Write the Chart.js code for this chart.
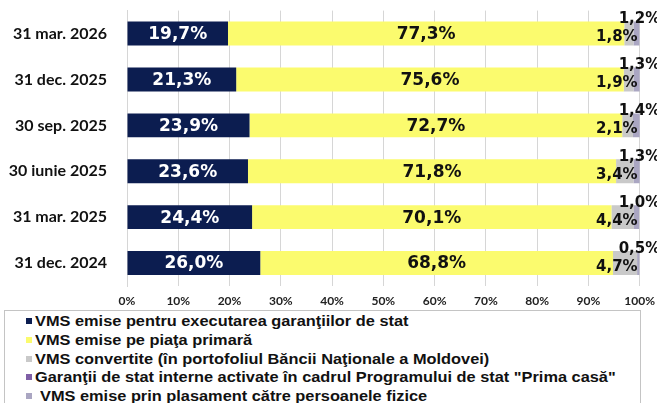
<!DOCTYPE html>
<html>
<head>
<meta charset="utf-8">
<script src="https://cdn.jsdelivr.net/npm/chart.js@4.4.1/dist/chart.umd.min.js"></script>
<style>
  html, body { margin: 0; padding: 0; background: #fff; }
  body { width: 657px; height: 403px; overflow: hidden; position: relative; }
  #wrap { position: absolute; left: 0; top: -11px; width: 663px; height: 321px; }
  #legend { position: absolute; left: 4px; top: 310px; width: 637px; height: 110px; border: 1px solid #c4c4c4; box-sizing: border-box;
    font-family: "Liberation Sans", Arial, sans-serif; font-weight: bold; font-size: 15px; color: #111; }
  .li { position: absolute; left: 0; height: 18px; line-height: 18px; white-space: nowrap; }
  .mk { position: absolute; top: 6px; width: 6px; height: 6px; }
  .tx { position: absolute; top: 0; transform: scaleX(1.09); transform-origin: 0 50%; }
</style>
</head>
<body>
<div id="wrap"><canvas id="c"></canvas></div>
<div id="legend"></div>
<script>
const categories = ["31 mar. 2026", "31 dec. 2025", "30 sep. 2025", "30 iunie 2025", "31 mar. 2025", "31 dec. 2024"];
const seriesNames = [
  "VMS emise pentru executarea garanţiilor de stat",
  "VMS emise pe piaţa primară",
  "VMS convertite (în portofoliul Băncii Naţionale a Moldovei)",
  "Garanţii de stat interne activate în cadrul Programului de stat \"Prima casă\"",
  "VMS emise prin plasament către persoanele fizice"
];
const garantii = [19.7, 21.3, 23.9, 23.6, 24.4, 26.0];
const piataPrimara = [77.3, 75.6, 72.7, 71.8, 70.1, 68.8];
const convertite = [1.8, 1.9, 2.1, 3.4, 4.4, 4.7];
const primaCasa = [0, 0, 0, 0, 0, 0];
const persoaneFizice = [1.2, 1.3, 1.4, 1.3, 1.0, 0.5];
const xTicks = [0, 10, 20, 30, 40, 50, 60, 70, 80, 90, 100];

const colors = ["#0c1d50", "#fbfb6e", "#c9c9c9", "#7f5fa6", "#aaa6c2"];
const series = [garantii, piataPrimara, convertite, primaCasa, persoaneFizice];

const fmt = v => v.toFixed(1).replace('.', ',') + '%';

const labelPlugin = {
  id: 'labels',
  afterDatasetsDraw(chart) {
    const ctx = chart.ctx;
    ctx.save();
    ctx.textBaseline = 'middle';
    const xs = chart.scales.x;
    chart.data.datasets.forEach((ds, di) => {
      const meta = chart.getDatasetMeta(di);
      meta.data.forEach((bar, i) => {
        const v = ds.data[i];
        if (!v) return;
        const y = bar.y;
        if (di === 0) {
          ctx.font = 'bold 17px "DejaVu Sans"';
          ctx.fillStyle = '#ffffff';
          ctx.textAlign = 'center';
          ctx.fillText(fmt(v), (bar.x + bar.base) / 2, y + 1);
        } else if (di === 1) {
          ctx.font = 'bold 17px "DejaVu Sans"';
          ctx.fillStyle = '#111111';
          ctx.textAlign = 'center';
          ctx.fillText(fmt(v), (bar.x + bar.base) / 2, y + 1);
        } else if (di === 2) {
          ctx.font = 'bold 15px "DejaVu Sans"';
          ctx.fillStyle = '#111111';
          ctx.textAlign = 'right';
          ctx.fillText(fmt(v), xs.getPixelForValue(100) - 2, y + 4);
        } else {
          ctx.font = 'bold 15px "DejaVu Sans"';
          ctx.fillStyle = '#111111';
          ctx.textAlign = 'left';
          ctx.fillText(fmt(v), xs.getPixelForValue(100) - 21, y - 14);
        }
      });
    });
    ctx.restore();
  }
};

new Chart(document.getElementById('c'), {
  type: 'bar',
  data: {
    labels: categories,
    datasets: series.map((d, i) => ({
      label: seriesNames[i],
      data: d,
      backgroundColor: colors[i],
      borderWidth: 0,
      categoryPercentage: 0.52,
      barPercentage: 1.0
    }))
  },
  options: {
    indexAxis: 'y',
    responsive: true,
    maintainAspectRatio: false,
    animation: false,
    layout: { autoPadding: false, padding: { top: 11, right: 17, left: 0, bottom: 0 } },
    plugins: { legend: { display: false }, tooltip: { enabled: false } },
    scales: {
      x: {
        stacked: true,
        min: 0, max: 100,
        afterBuildTicks: s => { s.ticks = xTicks.map(v => ({ value: v })); },
        afterFit: s => { s.height = 24; },
        grid: { color: '#d6d6d6', drawTicks: false },
        border: { display: false },
        ticks: { padding: 8, color: '#222', font: { family: 'Lato', weight: 'bold', size: 12 }, callback: v => v + '%' }
      },
      y: {
        stacked: true,
        afterFit: s => { s.width = 127; },
        grid: { display: false },
        border: { display: true, color: '#d6d6d6' },
        ticks: { padding: 12, color: '#111', font: { family: 'Lato', weight: 'bold', size: 16 } }
      }
    }
  },
  plugins: [labelPlugin]
});

const lg = document.getElementById('legend');
const tops = [1, 20, 39, 57, 76];
seriesNames.forEach((n, i) => {
  const d = document.createElement('div');
  d.className = 'li';
  d.style.top = tops[i] + 'px';
  const extra = i === 4 ? 5 : 0;
  d.innerHTML = '<span class="mk" style="left:21px;background:' + colors[i] + '"></span><span class="tx" style="left:' + (30 + extra) + 'px"></span>';
  d.querySelector('.tx').textContent = n;
  lg.appendChild(d);
});
</script>
</body>
</html>
